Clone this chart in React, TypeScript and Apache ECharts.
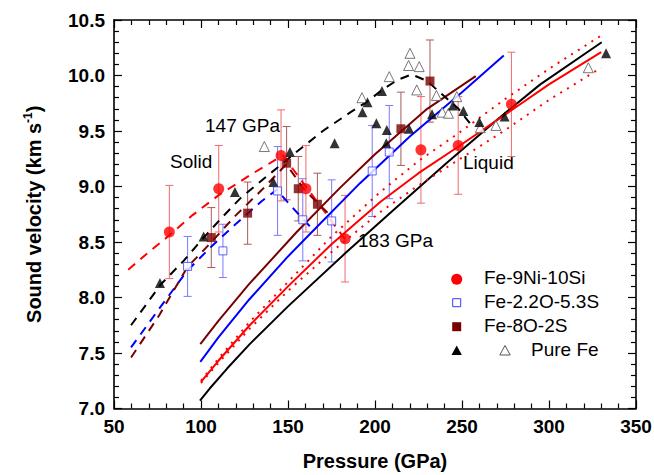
import React, { useEffect, useRef } from "react";
import * as echarts from "echarts";

// ---------- data ----------
const niSiP = [81.8, 110.2, 146.0, 160.3, 182.8, 226.4, 247.8, 278.4];
const niSiV = [8.59, 8.98, 9.28, 8.98, 8.53, 9.33, 9.37, 9.74];
const niSiErr = [0.42, 0.39, 0.41, 0.39, 0.39, 0.48, 0.44, 0.47];

const o22P = [92.3, 112.6, 144.0, 158.5, 175.1, 198.4, 208.2];
const o22V = [8.28, 8.42, 8.96, 8.7, 8.69, 9.14, 9.31];
const o22Err = [0.27, 0.24, 0.4, 0.37, 0.37, 0.41, 0.42];

const o8P = [105.9, 126.8, 149.2, 155.9, 166.9, 214.9, 231.6];
const o8V = [8.54, 8.76, 9.21, 8.98, 8.84, 9.52, 9.95];
const o8Err = [0.27, 0.28, 0.33, 0.29, 0.28, 0.33, 0.37];

const feFilledP = [76.4, 101.5, 119.5, 141.6, 151.1, 176.8, 192.8, 195.7, 200.8, 204.0, 206.8, 206.5, 219.6, 232.8, 244.8, 250.8, 260.0, 274.5, 332.8];
const feFilledV = [8.13, 8.55, 8.95, 9.04, 9.31, 9.39, 9.67, 9.76, 9.57, 9.86, 9.51, 9.39, 9.52, 9.65, 9.73, 9.68, 9.58, 9.63, 10.2];

const feOpenP = [136.4, 192.5, 208.2, 220.1, 219.3, 225.4, 224.0, 235.3, 247.0, 238.6, 242.2, 260.5, 269.5, 322.6];
const feOpenV = [9.36, 9.8, 9.99, 10.2, 10.09, 10.08, 9.87, 9.82, 9.81, 9.67, 9.66, 9.53, 9.55, 10.07];

// liquid curves
const blackSolidP = [99.4, 105, 115, 128, 150, 183, 210, 241, 270, 295, 330.3];
const blackSolidV = [7.07, 7.18, 7.36, 7.58, 7.92, 8.4, 8.78, 9.21, 9.6, 9.92, 10.3];

const redSolidP = [100, 110, 128, 150, 175, 203, 225, 248, 275, 300, 330];
const redSolidV = [7.24, 7.43, 7.75, 8.1, 8.48, 8.86, 9.12, 9.36, 9.65, 9.92, 10.21];
const redUpperV = [7.25, 7.45, 7.78, 8.14, 8.55, 8.95, 9.23, 9.48, 9.79, 10.06, 10.36];
const redLowerV = [7.23, 7.41, 7.72, 8.06, 8.41, 8.77, 9.01, 9.24, 9.51, 9.78, 10.07];

const blueSolidP = [99.6, 110, 127.6, 150, 165, 191.4, 220, 250, 274];
const blueSolidV = [7.42, 7.64, 7.98, 8.37, 8.61, 9.03, 9.45, 9.85, 10.18];

const maroonSolidP = [99.6, 110, 127.6, 155, 180, 200, 230, 257.9];
const maroonSolidV = [7.58, 7.79, 8.12, 8.59, 8.99, 9.29, 9.7, 9.995];

// solid-phase curves
const redDashP = [58.2, 70, 81.8, 95, 110, 130, 147, 165, 183];
const redDashV = [8.25, 8.41, 8.56, 8.74, 8.92, 9.12, 9.28, 8.9, 8.52];

const blackDashP = [59.8, 77, 90, 101, 112, 123, 140, 154, 170, 186, 196, 204, 213, 221, 230, 240, 248, 255];
const blackDashV = [7.75, 8.12, 8.33, 8.53, 8.72, 8.9, 9.12, 9.3, 9.5, 9.67, 9.77, 9.87, 9.96, 10.01, 9.95, 9.81, 9.7, 9.56];

const blueDashP = [59.8, 76, 92, 106, 120.5, 135, 143.5, 152, 165];
const blueDashV = [7.55, 7.9, 8.24, 8.46, 8.67, 8.87, 8.97, 8.82, 8.6];

const maroonDashP = [59.8, 76, 92, 106, 120, 135, 149, 160, 175];
const maroonDashV = [7.46, 7.84, 8.27, 8.5, 8.74, 8.97, 9.2, 8.96, 8.73];

const legendNames = ["Fe-9Ni-10Si", "Fe-2.2O-5.3S", "Fe-8O-2S", "Pure Fe"];

// ---------- helpers ----------
const zip2 = (a: number[], b: number[]) => a.map((v, i) => [v, b[i]]);
const zip3 = (a: number[], b: number[], c: number[]) => a.map((v, i) => [v, b[i], c[i]]);

const RED = "#ff0000";
const BLUE = "#0000ff";
const MAROON = "#7a0000";
const FONT = "'Liberation Sans', Arial, sans-serif";

function errSeries(data: number[][], color: string) {
  return {
    type: "custom",
    data,
    z: 1,
    silent: true,
    encode: { x: 0, y: 1 },
    renderItem: (_p: any, api: any) => {
      const x = api.value(0);
      const y = api.value(1);
      const e = api.value(2);
      const t = api.coord([x, y + e]);
      const b = api.coord([x, y - e]);
      const w = 4;
      const style = { stroke: color, lineWidth: 1 };
      return {
        type: "group",
        children: [
          { type: "line", shape: { x1: t[0], y1: t[1], x2: b[0], y2: b[1] }, style },
          { type: "line", shape: { x1: t[0] - w, y1: t[1], x2: t[0] + w, y2: t[1] }, style },
          { type: "line", shape: { x1: b[0] - w, y1: b[1], x2: b[0] + w, y2: b[1] }, style },
        ],
      };
    },
  };
}

function lineSeries(data: number[][], color: string, type: any) {
  return {
    type: "line",
    data,
    symbol: "none",
    showSymbol: false,
    smooth: false,
    silent: true,
    z: 2,
    lineStyle: { color, width: 2, type, join: "round" },
  };
}

export default function App() {
  const ref = useRef<HTMLDivElement>(null);
  useEffect(() => {
    if (!ref.current) return;
    const chart = echarts.init(ref.current, undefined, { renderer: "svg" });
    const axisCommon = {
      axisLine: { show: true, onZero: false, lineStyle: { color: "#000", width: 1.6 } },
      axisTick: { show: true, inside: true, length: 8, lineStyle: { color: "#000", width: 1.2 } },
      minorTick: { show: true, splitNumber: 5, length: 5, lineStyle: { color: "#000", width: 1.2 } },
      splitLine: { show: false },
    };
    const xBase = { type: "value", min: 50, max: 350, interval: 50 };
    const yBase = { type: "value", min: 7, max: 10.5, interval: 0.5 };
    const option: any = {
      animation: false,
      grid: { left: 114, right: 18, top: 20, bottom: 66.5, containLabel: false, outerBoundsMode: "none" },
      xAxis: [
        {
          ...xBase,
          ...axisCommon,
          position: "bottom",
          name: "Pressure (GPa)",
          nameLocation: "middle",
          nameGap: 42,
          nameTextStyle: { fontFamily: FONT, fontWeight: "bold", fontSize: 20, color: "#000" },
          axisLabel: { fontFamily: FONT, fontWeight: "bold", fontSize: 19, color: "#000", margin: 8 },
        },
        {
          ...xBase,
          ...axisCommon,
          position: "top",
          axisLabel: { show: false },
        },
      ],
      yAxis: [
        {
          ...yBase,
          ...axisCommon,
          position: "left",
          name: "{a|Sound velocity (km s}{s|-1}{a|)}",
          nameLocation: "middle",
          nameGap: 68,
          nameRotate: 90,
          nameTextStyle: {
            rich: {
              a: { fontFamily: FONT, fontWeight: "bold", fontSize: 20, color: "#000", lineHeight: 24 },
              s: { fontFamily: FONT, fontWeight: "bold", fontSize: 12, color: "#000", lineHeight: 24, verticalAlign: "top" },
            },
          },
          axisLabel: {
            fontFamily: FONT,
            fontWeight: "bold",
            fontSize: 19,
            color: "#000",
            margin: 9,
            formatter: (v: number) => v.toFixed(1),
          },
        },
        {
          ...yBase,
          ...axisCommon,
          position: "right",
          axisLabel: { show: false },
        },
      ],
      series: [
        errSeries(zip3(niSiP, niSiV, niSiErr), "#ee6a6a"),
        errSeries(zip3(o22P, o22V, o22Err), "#7a7aff"),
        errSeries(zip3(o8P, o8V, o8Err), "#a85a5a"),
        lineSeries(zip2(blackSolidP, blackSolidV), "#000", "solid"),
        lineSeries(zip2(redSolidP, redSolidV), RED, "solid"),
        lineSeries(zip2(redSolidP, redUpperV), RED, [2, 6]),
        lineSeries(zip2(redSolidP, redLowerV), RED, [2, 6]),
        lineSeries(zip2(blueSolidP, blueSolidV), BLUE, "solid"),
        lineSeries(zip2(maroonSolidP, maroonSolidV), MAROON, "solid"),
        lineSeries(zip2(redDashP, redDashV), RED, [9, 7]),
        lineSeries(zip2(blackDashP, blackDashV), "#000", [9, 7]),
        lineSeries(zip2(blueDashP, blueDashV), BLUE, [9, 7]),
        lineSeries(zip2(maroonDashP, maroonDashV), MAROON, [9, 7]),
        {
          type: "scatter",
          name: legendNames[3],
          data: zip2(feOpenP, feOpenV),
          symbol: "triangle",
          symbolSize: 10,
          z: 3,
          itemStyle: { color: "#fff", borderColor: "#555", borderWidth: 1 },
        },
        {
          type: "scatter",
          name: legendNames[3],
          data: zip2(feFilledP, feFilledV),
          symbol: "triangle",
          symbolSize: 10,
          z: 4,
          itemStyle: { color: "#000" },
        },
        {
          type: "scatter",
          name: legendNames[1],
          data: zip2(o22P, o22V),
          symbol: "rect",
          symbolSize: 8,
          z: 4,
          itemStyle: { color: "#fff", borderColor: "#3b3bff", borderWidth: 1 },
        },
        {
          type: "scatter",
          name: legendNames[2],
          data: zip2(o8P, o8V),
          symbol: "rect",
          symbolSize: 9,
          z: 4,
          itemStyle: { color: MAROON },
        },
        {
          type: "scatter",
          name: legendNames[0],
          data: zip2(niSiP, niSiV),
          symbol: "circle",
          symbolSize: 11,
          z: 5,
          itemStyle: { color: RED },
        },
      ],
      graphic: [
        { type: "text", left: 205, top: 116, style: { text: "147 GPa", font: `19px ${FONT}`, fill: "#000" } },
        { type: "text", left: 170, top: 152, style: { text: "Solid", font: `19px ${FONT}`, fill: "#000" } },
        { type: "text", left: 358, top: 231, style: { text: "183 GPa", font: `19px ${FONT}`, fill: "#000" } },
        { type: "text", left: 463, top: 153, style: { text: "Liquid", font: `19px ${FONT}`, fill: "#000" } },
        // legend
        { type: "circle", shape: { cx: 456.7, cy: 279.3, r: 5.5 }, style: { fill: RED } },
        { type: "rect", shape: { x: 452.7, y: 298.7, width: 8, height: 8 }, style: { fill: "#fff", stroke: "#3b3bff", lineWidth: 1 } },
        { type: "rect", shape: { x: 452.2, y: 322.2, width: 9, height: 9 }, style: { fill: MAROON } },
        { type: "polygon", shape: { points: [[456.7, 345.5], [451.5, 355], [461.9, 355]] }, style: { fill: "#000" } },
        { type: "polygon", shape: { points: [[505, 345.5], [499.8, 355], [510.2, 355]] }, style: { fill: "#fff", stroke: "#555", lineWidth: 1 } },
        { type: "text", left: 484, top: 268, style: { text: legendNames[0], font: `19px ${FONT}`, fill: "#000" } },
        { type: "text", left: 484, top: 292, style: { text: legendNames[1], font: `19px ${FONT}`, fill: "#000" } },
        { type: "text", left: 484, top: 316, style: { text: legendNames[2], font: `19px ${FONT}`, fill: "#000" } },
        { type: "text", left: 531, top: 340, style: { text: legendNames[3], font: `19px ${FONT}`, fill: "#000" } },
      ],
    };
    chart.setOption(option);
    return () => chart.dispose();
  }, []);
  return <div ref={ref} style={{ width: 654, height: 475, position: "absolute", left: 0, top: 0 }} />;
}
